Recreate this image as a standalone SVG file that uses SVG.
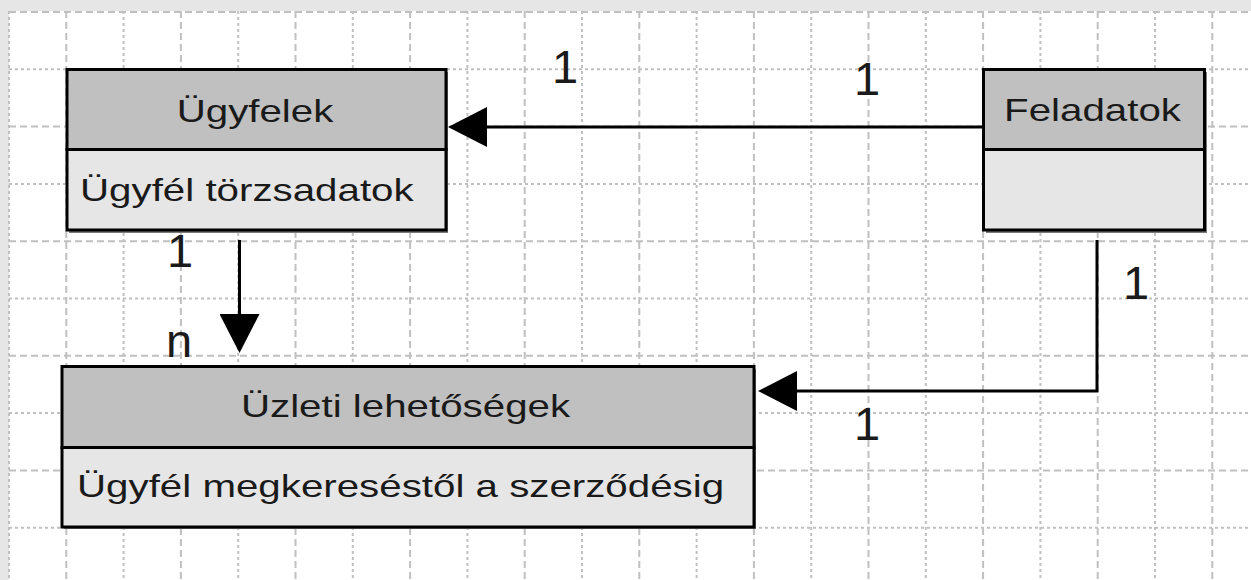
<svg xmlns="http://www.w3.org/2000/svg" width="1251" height="580" viewBox="0 0 1251 580">
<style>
.bg{fill:#e6e6e6}
.page{fill:#ffffff}
.gd{stroke:#c0c0c0;stroke-width:2;stroke-dasharray:7 4;fill:none}
.gt{stroke:#c0c0c0;stroke-width:2;stroke-dasharray:3 3;fill:none}
.shadow{fill:#7a7a7a}
.hdr{fill:#c0c0c0;stroke:#000;stroke-width:3}
.body{fill:#e6e6e6;stroke:#000;stroke-width:3}
.t{font-family:"Liberation Sans",Arial,sans-serif;font-size:31px;fill:#1a1a1a}
.lbl{font-family:"Liberation Sans",Arial,sans-serif;font-size:47px;fill:#1a1a1a}
.conn{stroke:#000;stroke-width:3;fill:none}
</style>
<defs>
<marker id="arrow" markerUnits="userSpaceOnUse" viewBox="0 0 39 40" markerWidth="39" markerHeight="40" refX="0" refY="20" orient="auto">
<path d="M0,0 L39,20 L0,40 Z" fill="#000"/>
</marker>
</defs>
<rect class="bg" x="0" y="0" width="1251" height="580"/>
<rect class="page" x="9" y="11" width="1242" height="569"/>
<g id="grid">
<path class="gt" d="M9,11V580 M123.6,11V580 M238.2,11V580 M352.8,11V580 M467.4,11V580 M582,11V580 M696.6,11V580 M811.2,11V580 M925.8,11V580 M1040.4,11V580 M1155,11V580"/>
<path class="gd" d="M66.3,11V580 M180.9,11V580 M295.5,11V580 M410.1,11V580 M524.7,11V580 M639.3,11V580 M753.9,11V580 M868.5,11V580 M983.1,11V580 M1097.7,11V580 M1212.3,11V580"/>
<path class="gd" d="M9,12H1251 M9,126.6H1251 M9,241.2H1251 M9,355.8H1251 M9,470.4H1251"/>
<path class="gt" d="M9,69.3H1251 M9,183.9H1251 M9,298.5H1251 M9,413.1H1251 M9,527.7H1251"/>
</g>
<g id="connectors">
<line class="conn" x1="983" y1="127" x2="487" y2="127" marker-end="url(#arrow)"/>
<line class="conn" x1="239.5" y1="240" x2="239.5" y2="314" marker-end="url(#arrow)"/>
<polyline class="conn" points="1097,240 1097,391 797,391" marker-end="url(#arrow)"/>
<text class="lbl" x="552" y="83">1</text>
<text class="lbl" x="854" y="95">1</text>
<text class="lbl" x="167" y="267">1</text>
<text class="lbl" x="166" y="357">n</text>
<text class="lbl" x="1123" y="299">1</text>
<text class="lbl" x="854" y="440">1</text>
</g>
<g id="ugyfelek">
<rect class="shadow" x="69" y="72" width="379" height="161"/>
<rect class="hdr" x="67" y="69.5" width="379" height="80"/>
<rect class="body" x="67" y="149.5" width="379" height="80.5"/>
<text class="t" transform="translate(255,121.5) scale(1.3,1)" text-anchor="middle">Ügyfelek</text>
<text class="t" transform="translate(80,200.5) scale(1.3,1)">Ügyfél törzsadatok</text>
</g>
<g id="feladatok">
<rect class="shadow" x="986" y="72" width="221" height="161"/>
<rect class="hdr" x="983.5" y="69.5" width="221" height="80"/>
<rect class="body" x="983.5" y="149.5" width="221" height="80.5"/>
<text class="t" transform="translate(1092.5,121) scale(1.3,1)" text-anchor="middle">Feladatok</text>
</g>
<g id="uzleti">
<rect class="shadow" x="64" y="369" width="692" height="160"/>
<rect class="hdr" x="62" y="366.5" width="692" height="81"/>
<rect class="body" x="62" y="447.5" width="692" height="79.5"/>
<text class="t" transform="translate(405.5,416.5) scale(1.3,1)" text-anchor="middle">Üzleti lehetőségek</text>
<text class="t" transform="translate(77,497) scale(1.3,1)">Ügyfél megkereséstől a szerződésig</text>
</g>
</svg>
